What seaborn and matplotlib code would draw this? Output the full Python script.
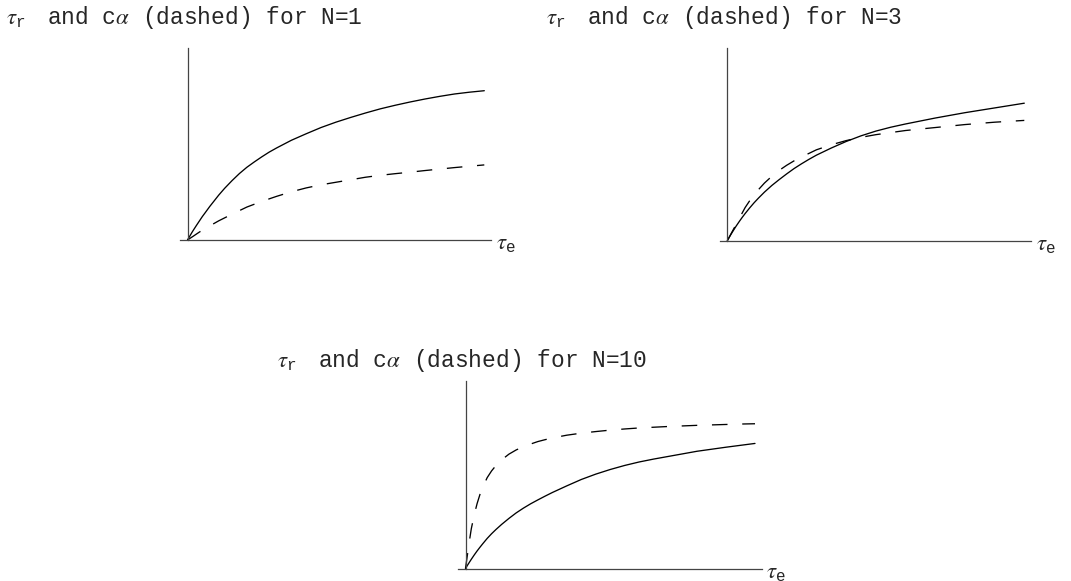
import matplotlib
matplotlib.use("Agg")
import matplotlib.pyplot as plt
import seaborn as sns

# tau_e grid shared by all curves
tau_e = [0, 0.05, 0.1, 0.15, 0.2, 0.3, 0.4, 0.5, 0.6, 0.75, 0.9, 1.05, 1.25, 1.5, 1.75,
         2, 2.25, 2.5, 2.75, 3, 3.5, 4, 4.5, 5, 5.5, 6, 6.5, 7, 7.5, 8, 8.5, 9, 9.5, 10]

# N=1
tau_r_n1 = [0, 0.085, 0.17, 0.255, 0.335, 0.49, 0.64, 0.79, 0.925, 1.13, 1.32, 1.51, 1.74,
            2.00, 2.24, 2.45, 2.63, 2.80, 2.96, 3.10, 3.36, 3.58, 3.79, 3.97, 4.13, 4.28,
            4.42, 4.54, 4.65, 4.75, 4.84, 4.92, 4.98, 5.03]
c_alpha_n1 = [0, 0.033, 0.066, 0.099, 0.132, 0.20, 0.267, 0.33, 0.39, 0.475, 0.56, 0.645,
              0.745, 0.87, 0.99, 1.11, 1.205, 1.295, 1.385, 1.47, 1.625, 1.755, 1.86, 1.945,
              2.03, 2.115, 2.18, 2.235, 2.285, 2.34, 2.39, 2.44, 2.485, 2.53]

# N=3
tau_r_n3 = [0, 0.088, 0.174, 0.257, 0.338, 0.495, 0.642, 0.782, 0.914, 1.10, 1.275, 1.435,
            1.635, 1.86, 2.06, 2.25, 2.43, 2.59, 2.74, 2.88, 3.12, 3.34, 3.53, 3.69, 3.82,
            3.93, 4.03, 4.13, 4.22, 4.31, 4.39, 4.47, 4.55, 4.63]
c_alpha_n3 = [0, 0.092, 0.185, 0.278, 0.37, 0.555, 0.74, 0.93, 1.115, 1.34, 1.54, 1.72,
              1.94, 2.17, 2.37, 2.54, 2.69, 2.82, 2.94, 3.06, 3.23, 3.37, 3.48, 3.57, 3.64,
              3.71, 3.76, 3.81, 3.86, 3.91, 3.95, 3.99, 4.02, 4.05]

# N=10
tau_r_n10 = [0, 0.082, 0.162, 0.24, 0.317, 0.465, 0.605, 0.735, 0.86, 1.04, 1.20, 1.345,
             1.525, 1.73, 1.92, 2.085, 2.235, 2.37, 2.50, 2.625, 2.855, 3.075, 3.26, 3.42,
             3.56, 3.68, 3.78, 3.87, 3.96, 4.05, 4.12, 4.19, 4.255, 4.32]
c_alpha_n10 = [0, 0.36, 0.70, 1.05, 1.37, 1.85, 2.24, 2.56, 2.82, 3.14, 3.37, 3.555, 3.755,
               3.95, 4.095, 4.21, 4.30, 4.385, 4.45, 4.51, 4.605, 4.675, 4.73, 4.78, 4.82,
               4.855, 4.88, 4.905, 4.925, 4.945, 4.96, 4.975, 4.99, 5.0]

n_values = [1, 3, 10]
tau_r_all = [tau_r_n1, tau_r_n3, tau_r_n10]
c_alpha_all = [c_alpha_n1, c_alpha_n3, c_alpha_n10]

W, H = 1071, 581
XLIM = (-0.26, 10.24)
YLIM = (0, 6.48)
# (origin x px, origin y px, px per unit, title baseline px)
panels = [(187.5, 240, 29.68, 24), (727.3, 240.7, 29.7, 24), (465.5, 568.5, 28.95, 367)]

sns.set_theme(style="white")
plt.rcParams["font.family"] = ["Liberation Mono", "DejaVu Sans"]
plt.rcParams["mathtext.fontset"] = "stix"
plt.rcParams["lines.scale_dashes"] = False

fig = plt.figure(figsize=(W / 100, H / 100), dpi=100)
fs = 16.5

for n, tr, ca, (ox, oy, s, ty) in zip(n_values, tau_r_all, c_alpha_all, panels):
    left = ox + XLIM[0] * s
    width = (XLIM[1] - XLIM[0]) * s
    height = (YLIM[1] - YLIM[0]) * s
    ax = fig.add_axes([left / W, 1 - oy / H, width / W, height / H])
    ax.patch.set_alpha(0)

    sns.lineplot(x=tau_e, y=tr, ax=ax, color="black", linewidth=0.95, clip_on=False)
    sns.lineplot(x=tau_e, y=ca, ax=ax, color="black", linewidth=0.95, clip_on=False,
                 linestyle=(0, (11.2, 10.6)))

    ax.set_xlim(*XLIM)
    ax.set_ylim(*YLIM)
    ax.set_xticks([])
    ax.set_yticks([])
    ax.set_xlabel("")
    ax.set_ylabel("")
    for side in ["top", "right"]:
        ax.spines[side].set_visible(False)
    ax.spines["left"].set_position(("data", 0))
    for side in ["left", "bottom"]:
        ax.spines[side].set_color("#444444")
        ax.spines[side].set_linewidth(0.9)

    ax.annotate(r"$\tau_\mathregular{e}$", xy=(1, 0), xycoords="axes fraction",
                xytext=(3, -2), textcoords="offset points", ha="left", va="center",
                fontsize=fs)
    # title sits centred over the vertical axis
    fig.text((ox - 3) / W, 1 - ty / H,
             r"$\tau_\mathregular{r}\;\,$ and c$\alpha$ (dashed) for N=%d" % n,
             ha="center", va="baseline", fontsize=fs)

fig.savefig("out.png", dpi=100)
